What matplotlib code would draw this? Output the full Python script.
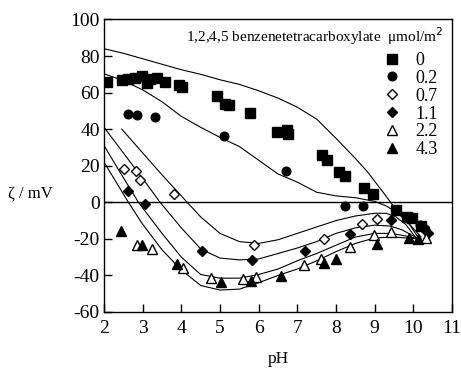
import matplotlib.pyplot as plt

plt.rcParams['font.family'] = ['Liberation Serif', 'DejaVu Serif']
plt.rcParams['axes.unicode_minus'] = False

# measured points, umol/m2 of 1,2,4,5 benzenetetracarboxylate
sq_x = [2.07, 2.46, 2.63, 2.8, 2.98, 3.1, 3.19, 3.37, 3.58, 3.93, 4.02, 4.93, 5.14, 5.23,
        5.77, 6.47, 6.73, 6.76, 7.65, 7.77, 8.09, 8.23, 8.72, 8.95, 9.56, 9.84, 9.97, 10.2]
sq_y = [65.7, 66.7, 67.6, 67.8, 68.9, 65.0, 67.6, 68.1, 65.7, 63.9, 63.0, 57.9, 53.9, 53.4,
        48.8, 38.4, 39.3, 37.2, 25.7, 23.0, 16.6, 14.2, 8.0, 4.7, -4.4, -8.0, -8.4, -13.1]

ci_x = [2.63, 2.85, 3.32, 5.1, 6.7, 8.22, 8.69, 10.16, 10.3]
ci_y = [48.5, 47.9, 46.6, 36.2, 16.9, -2.0, -2.0, -12.2, -14.4]

od_x = [2.53, 2.82, 2.94, 3.82, 5.88, 7.68, 8.68, 9.06]
od_y = [18.4, 17.1, 12.4, 4.7, -23.1, -19.9, -12.0, -8.9]

fd_x = [2.63, 3.06, 4.54, 5.84, 7.2, 8.35, 9.43, 10.38]
fd_y = [6.2, -0.7, -26.6, -31.7, -26.6, -17.1, -9.8, -16.8]

ot_x = [2.85, 3.24, 4.04, 4.76, 5.59, 5.93, 7.18, 7.6, 8.37, 8.97, 9.41, 10.33]
ot_y = [-23.5, -25.7, -36.0, -41.5, -42.1, -40.8, -34.5, -31.0, -24.4, -18.0, -16.2, -19.5]

ft_x = [2.45, 2.97, 3.89, 5.03, 5.81, 6.59, 7.7, 8.0, 9.07, 9.9, 10.12]
ft_y = [-15.8, -23.5, -33.9, -43.7, -43.3, -40.3, -33.3, -31.2, -23.0, -19.5, -20.3]

# model curves
a_x = [2.0, 2.5, 3.0, 3.5, 4.0, 4.5, 5.0, 5.5, 6.0, 6.5, 7.0, 7.5, 8.0, 8.5, 8.8, 9.2, 9.5, 9.8, 10.15]
a_y = [84, 81.5, 78.5, 75.5, 72.5, 70, 67, 64.5, 61, 57, 52, 45.5, 35, 24, 17, 6, -2.5, -9, -20]

b_x = [2.0, 2.5, 3.0, 3.5, 4.0, 4.5, 5.0, 5.5, 6.0, 6.5, 7.0, 7.5, 8.0, 8.5, 9.0, 9.3, 9.6, 9.9, 10.2]
b_y = [70.3, 66.5, 61.5, 55, 47, 41, 35.5, 30.5, 23, 15.5, 11, 5.5, 3.5, 2.5, 0.5, -2, -6, -12, -19]

c_x = [2.46, 3.0, 3.5, 4.15, 4.5, 5.0, 5.5, 6.0, 6.5, 7.0, 7.5, 8.0, 8.5, 9.0, 9.3, 9.55, 9.8, 10.05]
c_y = [40, 27, 15, 0, -8, -17, -21.5, -22.5, -20.5, -17, -13.5, -10, -7.5, -6, -6, -8, -12, -19]

d_x = [2.0, 2.5, 3.0, 3.45, 4.0, 4.5, 5.0, 5.5, 6.0, 6.5, 7.0, 7.5, 8.0, 8.5, 9.0, 9.4, 9.7, 10.1]
d_y = [41, 27, 13, 0, -14, -25.5, -30.5, -31.5, -31, -28, -25, -21.5, -17, -14, -12.5, -13, -15, -19.5]

e_x = [2.0, 2.5, 2.89, 3.5, 4.0, 4.5, 5.0, 5.5, 6.0, 6.5, 7.0, 7.5, 8.0, 8.5, 9.0, 9.4, 9.7, 10.15]
e_y = [31, 13.5, 0, -17, -30, -39.5, -41.5, -41.5, -39.5, -36.5, -32, -28, -23.5, -19, -17, -17, -18, -20]

f_x = [2.0, 2.63, 3.0, 3.5, 4.0, 4.5, 5.0, 5.5, 6.0, 6.5, 7.0, 7.5, 8.0, 8.5, 9.0, 9.5, 9.8, 10.2]
f_y = [22, 0, -12, -26, -37, -45.5, -48, -47.5, -44, -40, -36.5, -32, -27, -22.5, -19.5, -19, -19.5, -20]

labels = ['0', '0.2', '0.7', '1.1', '2.2', '4.3']

fig = plt.figure(figsize=(4.61, 3.74), dpi=100)
ax = fig.add_axes([0.2256, 0.1658, 0.7549, 0.7822])

for cx, cy in [(a_x, a_y), (b_x, b_y), (c_x, c_y), (d_x, d_y), (e_x, e_y), (f_x, f_y)]:
    ax.plot(cx, cy, color='black', lw=0.8)

ax.axhline(0, color='black', lw=1.0)

ms = 7
h1, = ax.plot(sq_x, sq_y, 's', color='black', ms=ms, ls='none')
h2, = ax.plot(ci_x, ci_y, 'o', color='black', ms=ms - 0.8, ls='none')
h3, = ax.plot(od_x, od_y, 'D', mfc='white', mec='black', mew=1.0, ms=ms - 2.2, ls='none')
h4, = ax.plot(fd_x, fd_y, 'D', color='black', ms=ms - 1.8, ls='none')
h5, = ax.plot(ot_x, ot_y, '^', mfc='white', mec='black', mew=1.0, ms=ms, ls='none')
h6, = ax.plot(ft_x, ft_y, '^', color='black', ms=ms, ls='none')

ax.set_xlim(2, 11)
ax.set_ylim(-60, 100)
ax.set_xticks(range(2, 12))
ax.set_yticks(range(-60, 101, 20))
ax.tick_params(direction='in', labelsize=14, length=6, width=1)
ax.tick_params(axis='x', pad=6)
ax.tick_params(axis='y', pad=3)
for s in ax.spines.values():
    s.set_linewidth(1.0)

ax.set_xlabel('pH', fontsize=12.5, labelpad=10)
fig.text(30 / 461, 1 - 193 / 374, 'ζ / mV', ha='center', va='center', fontsize=12)

ax.text(0.975, 0.944, '1,2,4,5 benzenetetracarboxylate  μmol/m$^2$', transform=ax.transAxes,
        ha='right', va='center', fontsize=11)

ax.legend([h1, h2, h3, h4, h5, h6], labels, loc='upper left', bbox_to_anchor=(0.775, 0.92),
          frameon=False, fontsize=13, handletextpad=0.8, labelspacing=0.05,
          borderpad=0, handlelength=1.0)

fig.savefig('out.png', dpi=100)
